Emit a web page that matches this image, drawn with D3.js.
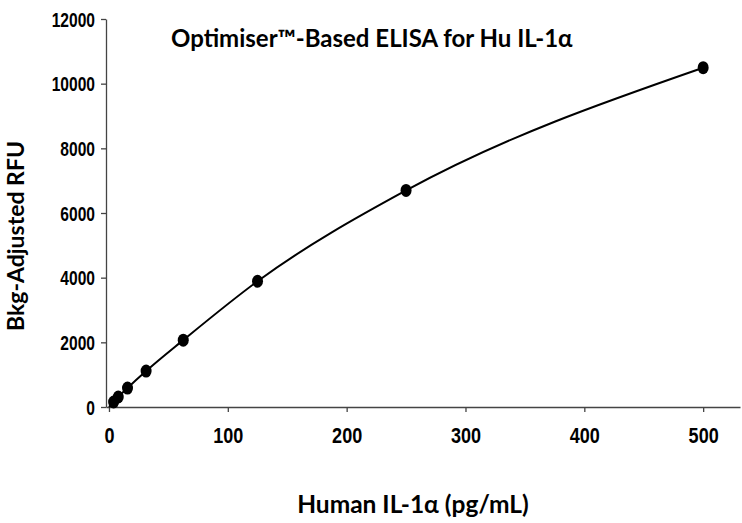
<!DOCTYPE html>
<html><head><meta charset="utf-8">
<script src="https://cdn.jsdelivr.net/npm/d3@7"></script>
<style>body{margin:0;background:#fff}</style>
</head><body>
<svg id="c" width="742" height="523"></svg>
<script>
const conc = [3.9, 7.8, 15.6, 31.25, 62.5, 125, 250, 500];
const rfu = [154, 309, 586, 1111, 2068, 3889, 6698, 10494];
const xTicks = [0, 100, 200, 300, 400, 500];
const yTicks = [0, 2000, 4000, 6000, 8000, 10000, 12000];
const curveX = [0, 3.9, 7.8, 15.6, 31.25, 62.5, 125, 250, 500];
const curveY = [0, 154, 309, 586, 1111, 2068, 3889, 6698, 10494];

const svg = d3.select("#c");
const x = d3.scaleLinear().domain([-2.5, 531]).range([106, 740]);
const y = d3.scaleLinear().domain([0, 12000]).range([407, 19]);
const tickFont = "'Liberation Sans',Arial,sans-serif";
const lblFont = "Lato,'Open Sans',sans-serif";
const fmt = d3.format("d");

const xa = svg.append("g").attr("transform","translate(0,407)")
  .call(d3.axisBottom(x).tickValues(xTicks).tickFormat(fmt).tickSize(5).tickSizeOuter(0));
const ya = svg.append("g").attr("transform","translate(106,0)")
  .call(d3.axisLeft(y).tickValues(yTicks).tickFormat(fmt).tickSize(5).tickSizeOuter(0));
[xa, ya].forEach(a => {
  a.select(".domain").attr("stroke","#444").attr("stroke-width",1.3);
  a.selectAll(".tick line").attr("stroke","#444").attr("stroke-width",1.3);
  a.selectAll("text").attr("font-family",tickFont).attr("font-weight","bold").attr("fill","#000");
});
const sy = 0.78, sx = 0.84;
ya.selectAll("text").attr("font-size",20).attr("x", -11/sy).attr("dy","0.36em")
  .attr("transform",`scale(${sy},1)`);
xa.selectAll("text").attr("font-size",21.5).attr("y", 36).attr("dy", 0)
  .attr("transform",`scale(${sx},1)`);

const line = d3.line().x((d,i)=>x(curveX[i])).y(d=>y(d)).curve(d3.curveMonotoneX);
svg.append("path").attr("d", line(curveY)).attr("fill","none")
  .attr("stroke","#000").attr("stroke-width",2);

svg.selectAll("ellipse.pt").data(conc).enter().append("ellipse")
  .attr("cx",(d)=>x(d)).attr("cy",(d,i)=>y(rfu[i]))
  .attr("rx",5.5).attr("ry",6.5).attr("fill","#000");

svg.append("text").attr("x",171).attr("y",47).attr("font-family",lblFont)
  .attr("font-weight","bold").attr("font-size",24).text("Optimiser™-Based ELISA for Hu IL-1α");
svg.append("text").attr("x",413).attr("y",513).attr("text-anchor","middle")
  .attr("font-family",lblFont).attr("font-weight","bold").attr("font-size",24.5)
  .text("Human IL-1α (pg/mL)");
svg.append("text").attr("transform","translate(24,236) rotate(-90)").attr("text-anchor","middle")
  .attr("font-family",lblFont).attr("font-weight","bold").attr("font-size",23)
  .text("Bkg-Adjusted RFU");
</script>
</body></html>
